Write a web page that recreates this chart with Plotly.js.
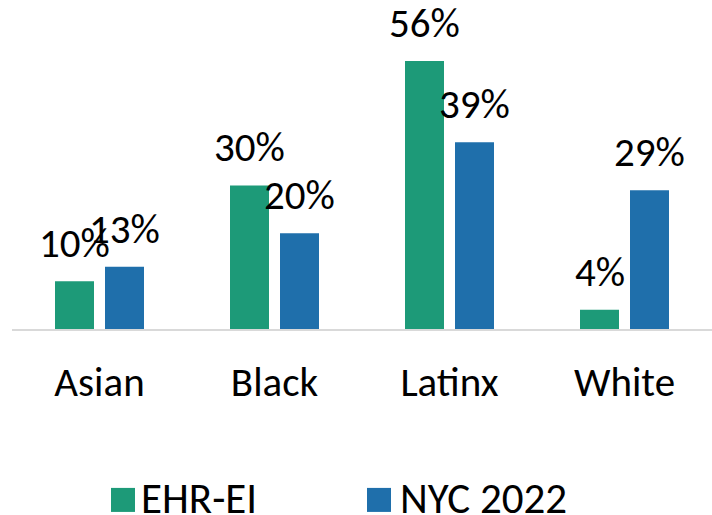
<!DOCTYPE html>
<html><head><meta charset="utf-8">
<script src="https://cdn.plot.ly/plotly-3.0.1.min.js"></script>
<style>html,body{margin:0;padding:0;background:#fff}#chart{width:712px;height:515px}</style>
</head><body><div id="chart"></div>
<script>
const categories = ["Asian", "Black", "Latinx", "White"];
const seriesNames = ["EHR-EI", "NYC 2022"];
const ehrValues = [10, 30, 56, 4];
const nycValues = [13, 20, 39, 29];
const colors = ["#1d9a78", "#1f6fab"];
const FONT = "Carlito, Lato, 'Open Sans', sans-serif";

const traces = [
  {type: "bar", x: categories, y: ehrValues, name: seriesNames[0], marker: {color: colors[0]}, hoverinfo: "none"},
  {type: "bar", x: categories, y: nycValues, name: seriesNames[1], marker: {color: colors[1]}, hoverinfo: "none"}
];

const annotations = [];
[ehrValues, nycValues].forEach((vals, si) => {
  vals.forEach((v, i) => {
    annotations.push({x: categories[i], y: v, xref: "x", yref: "y", text: v + "%", showarrow: false,
      xshift: si === 0 ? -25 : 25, yanchor: "bottom", yshift: 11,
      font: {family: FONT, size: 41, color: "#000"}});
  });
});
// legend
const legY = -0.515;
seriesNames.forEach((n, si) => {
  annotations.push({xref: "paper", yref: "paper", x: si === 0 ? 0.1814 : 0.5514, y: legY, xanchor: "left", yanchor: "middle",
    text: n, showarrow: false, font: {family: FONT, size: 43, color: "#000"}});
});
const shapes = [
  {type: "rect", xref: "paper", yref: "paper", x0: 0.1414, x1: 0.1757, y0: -0.483, y1: -0.556, fillcolor: colors[0], line: {width: 0}},
  {type: "rect", xref: "paper", yref: "paper", x0: 0.5071, x1: 0.5414, y0: -0.483, y1: -0.556, fillcolor: colors[1], line: {width: 0}}
];

const layout = {
  width: 712, height: 515,
  margin: {l: 12, r: 0, t: 0, b: 186},
  paper_bgcolor: "#fff", plot_bgcolor: "#fff",
  barmode: "group", bargap: 0.4286, bargroupgap: 0.22,
  showlegend: false,
  font: {family: FONT, size: 41, color: "#000"},
  xaxis: {showline: true, linecolor: "#d9d9d9", linewidth: 1.5, showgrid: false, ticks: "", tickfont: {family: FONT, size: 41, color: "#000"}, ticklabelstandoff: 16, fixedrange: true},
  yaxis: {range: [0, 68.75], visible: false, showgrid: false, zeroline: false, fixedrange: true},
  annotations: annotations,
  shapes: shapes
};
Plotly.newPlot("chart", traces, layout, {displayModeBar: false, staticPlot: true});
</script></body></html>
